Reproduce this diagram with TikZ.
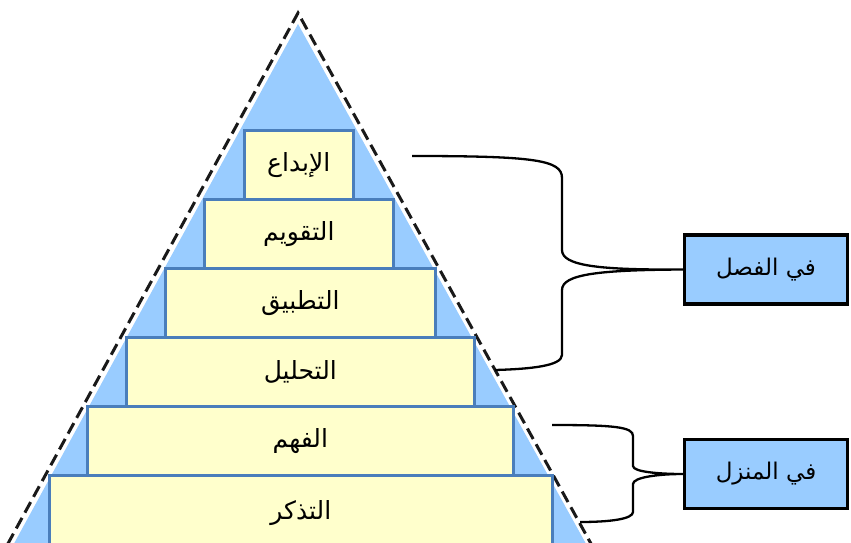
\documentclass[tikz,border=0pt]{standalone}
\usepackage{fontspec}
\newfontfamily\arabicfont[Script=Arabic]{DejaVu Sans}
\TeXXeTstate=1
\definecolor{skyfill}{HTML}{99CCFF}
\definecolor{stepfill}{HTML}{FFFFCC}
\definecolor{stepline}{HTML}{4A7EBB}
\tikzset{
  level/.style={draw=stepline, line width=2.6pt, fill=stepfill, anchor=north west,
    inner sep=0pt, font=\fontsize{25}{30}\arabicfont},
  place/.style={draw=black, line width=3.5pt, fill=skyfill, minimum width=163pt,
    minimum height=69pt, inner sep=0pt, font=\fontsize{23}{28}\arabicfont},
  brace/.style={draw=black, line width=2.3pt},
  outline/.style={draw=black!90, line width=3pt, dash pattern=on 12pt off 6pt},
}
\newcommand{\rtl}[1]{\beginR #1\endR}
\begin{document}
\begin{tikzpicture}[x=1pt,y=-1pt]
\useasboundingbox (0,0) rectangle (851,543);
\clip (0,0) rectangle (851,543);
% pyramid background and dashed outline
\fill[skyfill] (298,24) -- (595,560) -- (5,560) -- cycle;
\draw[outline] (-1,560) -- (298,13) -- (600,560);
% pyramid levels, top to bottom
\node[level, minimum width=109pt, minimum height=69pt] (creating) at (243,129) {\rtl{الإبداع}};
\node[level, minimum width=189pt, minimum height=69pt] (evaluating) at (203,198) {\rtl{التقويم}};
\node[level, minimum width=270pt, minimum height=69pt] (applying) at (164,267) {\rtl{التطبيق}};
\node[level, minimum width=348pt, minimum height=69pt] (analyzing) at (125,336) {\rtl{التحليل}};
\node[level, minimum width=426pt, minimum height=69pt] (understanding) at (86,405) {\rtl{الفهم}};
\node[level, minimum width=503pt, minimum height=75pt] (remembering) at (48,474) {\rtl{التذكر}};
% settings
\node[place] (classroom) at (766,269.5) {\rtl{في الفصل}};
\node[place] (home) at (766,474) {\rtl{في المنزل}};
% brace ends
\coordinate (c1) at (412,156);
\coordinate (c2) at (495,370);
\coordinate (h1) at (552,425);
\coordinate (h2) at (580,522);
% braces
\draw[brace] (c1) .. controls (535,156) and (562,160) .. (562,178) -- (562,250)
  .. controls (562,266) and (600,270) .. (classroom.west)
  .. controls (600,270) and (562,274) .. (562,290) -- (562,355)
  .. controls (562,366) and (530,369) .. (c2);
\draw[brace] (h1) .. controls (615,425) and (633,427) .. (633,436) -- (633,466)
  .. controls (633,472) and (660,474) .. (home.west)
  .. controls (660,474) and (633,477) .. (633,484) -- (633,512)
  .. controls (633,519) and (610,522) .. (h2);
\end{tikzpicture}
\end{document}
